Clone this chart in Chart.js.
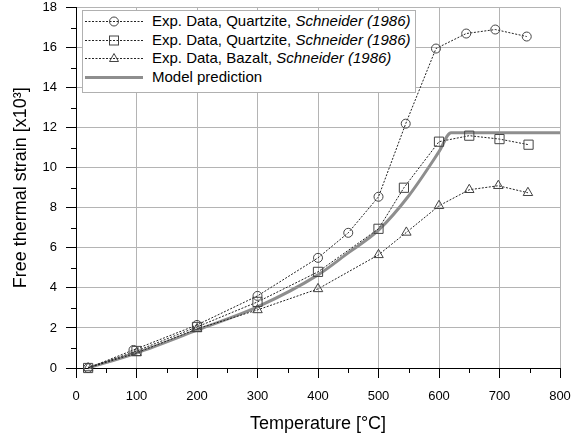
<!DOCTYPE html>
<html>
<head>
<meta charset="utf-8">
<script src="https://cdn.jsdelivr.net/npm/chart.js@4.4.1/dist/chart.umd.min.js"></script>
<style>
  html, body { margin: 0; padding: 0; background: #fff; }
  #wrap { position: relative; width: 573px; height: 438px; }
  #leyenda {
    position: absolute; left: 82px; top: 10px; width: 332px; height: 81px;
    background: #fff; border: 1px solid #b0b0b0;
    font-family: 'Liberation Sans', Arial, sans-serif; font-size: 15px; color: #000;
  }
  #leyenda .fila { position: absolute; left: 2px; height: 18px; line-height: 18px; white-space: nowrap; }
  #leyenda svg { position: absolute; left: 0; top: 0; }
  #leyenda span { position: absolute; left: 67px; top: 0; }
</style>
</head>
<body>
<div id="wrap">
  <canvas id="grafico"></canvas>
  <div id="leyenda"></div>
</div>
<script>
// ==========================================================================
// DATOS
// ==========================================================================
const tempCuarcita1 = [20, 95, 200, 300, 400, 450, 500, 545, 595, 645, 693, 745];
const defCuarcita1  = [0, 0.9, 2.15, 3.6, 5.5, 6.75, 8.55, 12.2, 15.95, 16.7, 16.9, 16.55];

const tempCuarcita2 = [20, 100, 200, 300, 400, 500, 542, 600, 650, 700, 748];
const defCuarcita2  = [0, 0.85, 2.05, 3.3, 4.8, 6.95, 9.0, 11.3, 11.6, 11.43, 11.15];

const tempBasalto = [20, 100, 200, 300, 400, 500, 546, 600, 650, 698, 747];
const defBasalto  = [0, 0.75, 1.95, 2.9, 3.95, 5.65, 6.77, 8.1, 8.9, 9.1, 8.75];

const tempModelo = [20, 100, 200, 300, 400, 450, 500, 550, 600, 620, 800];
const defModelo  = [0, 0.75, 1.89, 3.05, 4.65, 5.75, 6.88, 8.6, 10.8, 11.75, 11.75];

const etiquetasLeyenda = [
  ['Exp. Data, Quartzite, ', 'Schneider (1986)'],
  ['Exp. Data, Quartzite, ', 'Schneider (1986)'],
  ['Exp. Data, Bazalt, ', 'Schneider (1986)'],
  ['Model prediction', '']
];

const ticksMenoresX = [50, 150, 250, 350, 450, 550, 650, 750];
const ticksMenoresY = [1, 3, 5, 7, 9, 11, 13, 15, 17];

// helper: une dos arrays en puntos {x, y}
function puntos(xs, ys) {
  return xs.map((x, i) => ({ x: x, y: ys[i] }));
}

const FUENTE = "'Liberation Sans', Arial, sans-serif";
Chart.defaults.font.family = FUENTE;
Chart.defaults.color = '#000';

const serieExp = (datos, estilo, radio) => ({
  data: datos,
  borderColor: '#222',
  borderWidth: 1,
  borderDash: [2, 1.5],
  pointStyle: estilo,
  pointRadius: radio,
  pointHoverRadius: radio,
  pointBackgroundColor: 'rgba(0,0,0,0)',
  pointBorderColor: '#444',
  pointBorderWidth: 1,
  tension: 0,
  clip: false
});

// ticks menores dibujados con las escalas del grafico
const ticksMenores = {
  id: 'ticksMenores',
  afterDraw(chart) {
    const { ctx, scales: { x, y } } = chart;
    ctx.save();
    ctx.strokeStyle = '#000';
    ctx.lineWidth = 1;
    ticksMenoresX.forEach(v => {
      const px = Math.round(x.getPixelForValue(v)) + 0.5;
      ctx.beginPath(); ctx.moveTo(px, y.bottom); ctx.lineTo(px, y.bottom + 5); ctx.stroke();
    });
    ticksMenoresY.forEach(v => {
      const py = Math.round(y.getPixelForValue(v)) + 0.5;
      ctx.beginPath(); ctx.moveTo(x.left, py); ctx.lineTo(x.left - 5, py); ctx.stroke();
    });
    ctx.restore();
  }
};

const grafico = new Chart(document.getElementById('grafico'), {
  type: 'line',
  data: {
    datasets: [
      serieExp(puntos(tempCuarcita1, defCuarcita1), 'circle', 4.5),
      serieExp(puntos(tempCuarcita2, defCuarcita2), 'rect', 6.5),
      serieExp(puntos(tempBasalto, defBasalto), 'triangle', 5.5),
      {
        data: puntos(tempModelo, defModelo),
        borderColor: '#8e8e8e',
        borderWidth: 3,
        pointRadius: 0,
        cubicInterpolationMode: 'monotone',
        clip: false
      }
    ]
  },
  options: {
    responsive: true,
    maintainAspectRatio: false,
    animation: false,
    layout: { padding: { top: 7, right: 13, left: 0, bottom: 0 } },
    plugins: { legend: { display: false }, tooltip: { enabled: false } },
    scales: {
      x: {
        type: 'linear', min: 0, max: 800,
        ticks: { stepSize: 100, padding: 11, font: { size: 13 }, color: '#000', maxRotation: 0 },
        grid: { color: '#b4b4b4', tickColor: '#000', tickLength: 10, lineWidth: 1 },
        border: { color: '#000', width: 1 },
        title: { display: true, text: 'Temperature [°C]', font: { size: 18 }, color: '#000', padding: { top: 4, bottom: 3 } },
        afterFit(s) { s.height = 70; s.paddingLeft = 0; s.paddingRight = 0; }
      },
      y: {
        type: 'linear', min: 0, max: 18,
        ticks: { stepSize: 2, padding: 9, font: { size: 13 }, color: '#000' },
        grid: { color: '#b4b4b4', tickColor: '#000', tickLength: 10, lineWidth: 1 },
        border: { color: '#000', width: 1 },
        title: { display: true, text: 'Free thermal strain [x10³]', font: { size: 18 }, color: '#000', padding: { top: 10, bottom: 0 } },
        afterFit(s) { s.width = 76; s.paddingTop = 0; s.paddingBottom = 0; }
      }
    }
  },
  plugins: [ticksMenores]
});

// ==========================================================================
// LEYENDA (HTML, con texto en cursiva)
// ==========================================================================
const marcadores = [
  '<circle cx="29" cy="9.5" r="4.5" fill="none" stroke="#444"/>',
  '<rect x="24.5" y="5" width="9" height="9" fill="none" stroke="#444"/>',
  '<polygon points="29,4.5 33.5,12.5 24.5,12.5" fill="none" stroke="#444"/>',
  ''
];
const leyenda = document.getElementById('leyenda');
etiquetasLeyenda.forEach((et, i) => {
  const linea = i < 3
    ? '<line x1="0" y1="9.5" x2="58" y2="9.5" stroke="#222" stroke-width="1" stroke-dasharray="2,1.5"/>'
    : '<line x1="0" y1="9.5" x2="58" y2="9.5" stroke="#8e8e8e" stroke-width="3"/>';
  const fila = document.createElement('div');
  fila.className = 'fila';
  fila.style.top = (1 + i * 18.5) + 'px';
  fila.innerHTML = '<svg width="60" height="18">' + linea + marcadores[i] + '</svg>' +
    '<span>' + et[0] + (et[1] ? '<i>' + et[1] + '</i>' : '') + '</span>';
  leyenda.appendChild(fila);
});
</script>
</body>
</html>
